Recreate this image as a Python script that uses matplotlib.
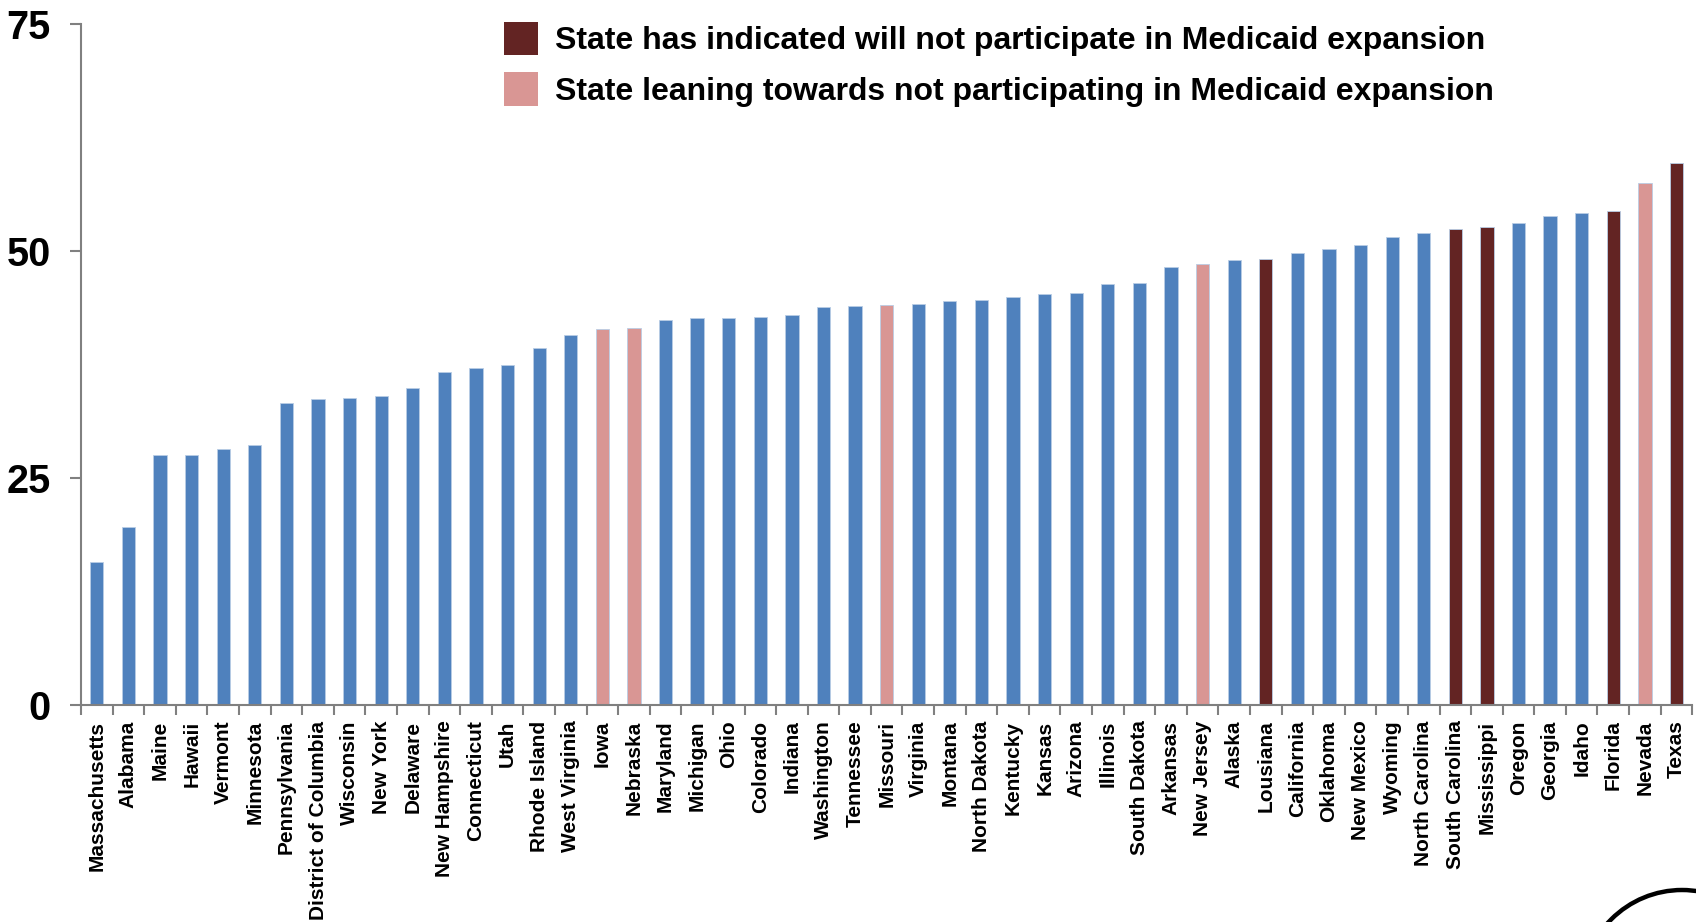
import numpy as np
import matplotlib.pyplot as plt
from matplotlib.patches import Circle, Patch

states = ["Massachusetts", "Alabama", "Maine", "Hawaii", "Vermont", "Minnesota",
          "Pennsylvania", "District of Columbia", "Wisconsin", "New York", "Delaware",
          "New Hampshire", "Connecticut", "Utah", "Rhode Island", "West Virginia",
          "Iowa", "Nebraska", "Maryland", "Michigan", "Ohio", "Colorado", "Indiana",
          "Washington", "Tennessee", "Missouri", "Virginia", "Montana", "North Dakota",
          "Kentucky", "Kansas", "Arizona", "Illinois", "South Dakota", "Arkansas",
          "New Jersey", "Alaska", "Lousiana", "California", "Oklahoma", "New Mexico",
          "Wyoming", "North Carolina", "South Carolina", "Mississippi", "Oregon",
          "Georgia", "Idaho", "Florida", "Nevada", "Texas"]

values = [15.8, 19.6, 27.5, 27.6, 28.2, 28.7,
          33.3, 33.7, 33.8, 34.0, 34.9,
          36.7, 37.1, 37.5, 39.3, 40.8,
          41.4, 41.5, 42.4, 42.6, 42.6, 42.7, 43.0,
          43.8, 44.0, 44.1, 44.2, 44.5, 44.6,
          45.0, 45.3, 45.4, 46.4, 46.5, 48.3,
          48.6, 49.0, 49.1, 49.8, 50.2, 50.7,
          51.5, 52.0, 52.4, 52.6, 53.1,
          53.9, 54.2, 54.4, 57.5, 59.7]

# states not (or probably not) taking part in the expansion
not_participating = ["Lousiana", "South Carolina", "Mississippi", "Florida", "Texas"]
leaning = ["Iowa", "Nebraska", "Missouri", "New Jersey", "Nevada"]

legend_labels = ["State has indicated will not participate in Medicaid expansion",
                 "State leaning towards not participating in Medicaid expansion"]

BLUE = "#4F81BD"
DARK = "#632423"
PINK = "#D99694"
GREY = "#808080"

colors = []
for s in states:
    if s in not_participating:
        colors.append(DARK)
    elif s in leaning:
        colors.append(PINK)
    else:
        colors.append(BLUE)

plt.rcParams['font.family'] = ['Liberation Sans', 'DejaVu Sans']

fig = plt.figure(figsize=(16.96, 9.22), dpi=100)
ax = fig.add_axes([0.0478, 0.235, 0.950, 0.739])

x = np.arange(len(states))
ax.bar(x, values, width=0.42, color=colors, edgecolor='#B9CDE5', linewidth=0.6)

ax.set_xlim(-0.5, len(states) - 0.5)
ax.set_ylim(0, 75)
ax.set_yticks([0, 25, 50, 75])
ax.tick_params(axis='y', labelsize=28.5, length=8, width=1.5, color=GREY, pad=14)
for lbl in ax.get_yticklabels():
    lbl.set_fontweight('bold')

ax.set_xticks(x)
ax.set_xticklabels(states, rotation=90, fontsize=15, fontweight='bold')
ax.tick_params(axis='x', which='major', length=0, pad=11)
ax.set_xticks(np.arange(-0.5, len(states)), minor=True)
ax.tick_params(axis='x', which='minor', length=7, width=1.5, color=GREY)

for side in ['top', 'right']:
    ax.spines[side].set_visible(False)
for side in ['left', 'bottom']:
    ax.spines[side].set_color(GREY)
    ax.spines[side].set_linewidth(1.5)

handles = [Patch(facecolor=DARK), Patch(facecolor=PINK)]
ax.legend(handles, legend_labels, loc='upper left', bbox_to_anchor=(0.2526, 1.027),
          frameon=False, prop={'size': 23, 'weight': 'bold'}, borderpad=0,
          handlelength=1.05, handleheight=1.25, handletextpad=0.55, labelspacing=0.5)

# partial circle in the bottom right corner
fig.patches.append(Circle((1682, -68), 100, transform=None, fill=False,
                          edgecolor='black', linewidth=3.2))

fig.savefig("out.png", dpi=100)
